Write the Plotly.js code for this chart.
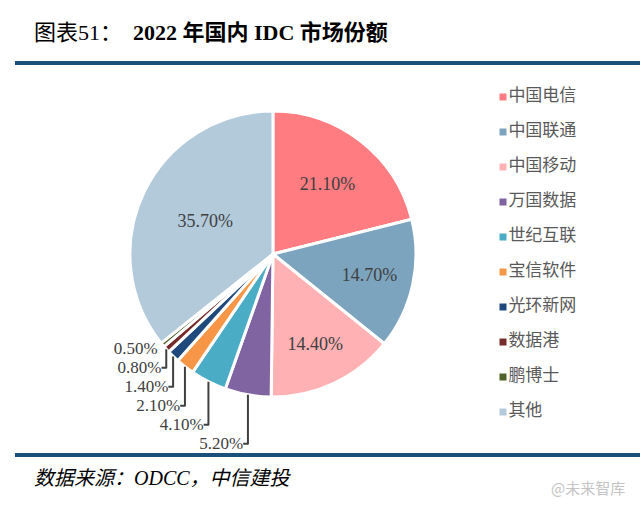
<!DOCTYPE html>
<html>
<head>
<meta charset="utf-8">
<script src="https://cdn.plot.ly/plotly-3.0.1.min.js"></script>
<style>html,body{margin:0;padding:0;background:#fff;}#chart{width:640px;height:509px;}</style>
</head>
<body>
<div id="chart"></div>
<script>
// Data
const companies = ["中国电信","中国联通","中国移动","万国数据","世纪互联","宝信软件","光环新网","数据港","鹏博士","其他"];
const shares = [21.1, 14.7, 14.4, 5.2, 4.1, 2.1, 1.4, 0.8, 0.5, 35.7];
const sliceColors = ["#FF7C80","#7DA4BE","#FFB1B3","#8064A2","#4BACC6","#F79646","#1F497D","#772C2A","#4F6228","#B3CADB"];
const labelPlacement = ["inside","inside","inside","outside","outside","outside","outside","outside","outside","inside"];

const serif = "Liberation Serif, 'Times New Roman', 'Noto Sans CJK SC', serif";
const cjk = "'Noto Sans CJK SC', 'Liberation Serif', sans-serif";

const pie = {
  type: "pie",
  labels: companies,
  values: shares,
  sort: false,
  direction: "clockwise",
  rotation: 0,
  marker: {colors: sliceColors, line: {color: "#ffffff", width: 3}},
  textposition: labelPlacement,
  texttemplate: "%{value:.2f}%",
  textfont: {family: serif, size: 18, color: "#404040"},
  insidetextorientation: "horizontal",
  outsidetextfont: {family: serif, size: 17, color: "#404040"},
  domain: {x: [0.203, 0.65], y: [0.22, 0.782]},
  showlegend: false,
  hoverinfo: "label+percent"
};

const legendIdx = companies.map((c, i) => i);
const legendTrace = {
  type: "scatter",
  mode: "markers+text",
  x: companies.map(() => 503),
  y: legendIdx,
  text: companies,
  textposition: "middle right",
  textfont: {family: cjk, size: 17, color: "#595959"},
  marker: {symbol: "square", size: 7, color: sliceColors},
  cliponaxis: false,
  hoverinfo: "skip",
  showlegend: false
};

const layout = {
  width: 640, height: 509,
  margin: {l: 0, r: 0, t: 0, b: 0},
  paper_bgcolor: "#ffffff",
  plot_bgcolor: "rgba(0,0,0,0)",
  showlegend: false,
  xaxis: {range: [0, 640], visible: false, fixedrange: true},
  yaxis: {range: [11.771, -2.771], visible: false, fixedrange: true},
  shapes: [
    {type: "line", xref: "paper", yref: "paper", x0: 15/640, x1: 1, y0: 1 - 63/509, y1: 1 - 63/509, line: {color: "#1B4F7C", width: 4}},
    {type: "line", xref: "paper", yref: "paper", x0: 15/640, x1: 1, y0: 1 - 455/509, y1: 1 - 455/509, line: {color: "#1B4F7C", width: 4}}
  ],
  annotations: [
    {xref: "paper", yref: "paper", x: 32/640, y: 1 - 33/509, xanchor: "left", yanchor: "middle", showarrow: false,
     text: "图表51：  <b>2022 年国内 IDC 市场份额</b>", font: {family: serif, size: 22, color: "#000000"}},
    {xref: "paper", yref: "paper", x: 32/640, y: 1 - 478/509, xanchor: "left", yanchor: "middle", showarrow: false,
     text: "<i>数据来源：ODCC，中信建投</i>", font: {family: serif, size: 20, color: "#000000"}},
    {xref: "paper", yref: "paper", x: 627/640, y: 1 - 487/509, xanchor: "right", yanchor: "middle", showarrow: false,
     text: "@未来智库", font: {family: cjk, size: 15, color: "#c4c4c4"}}
  ]
};

Plotly.newPlot("chart", [legendTrace, pie], layout, {staticPlot: true});
</script>
</body>
</html>
